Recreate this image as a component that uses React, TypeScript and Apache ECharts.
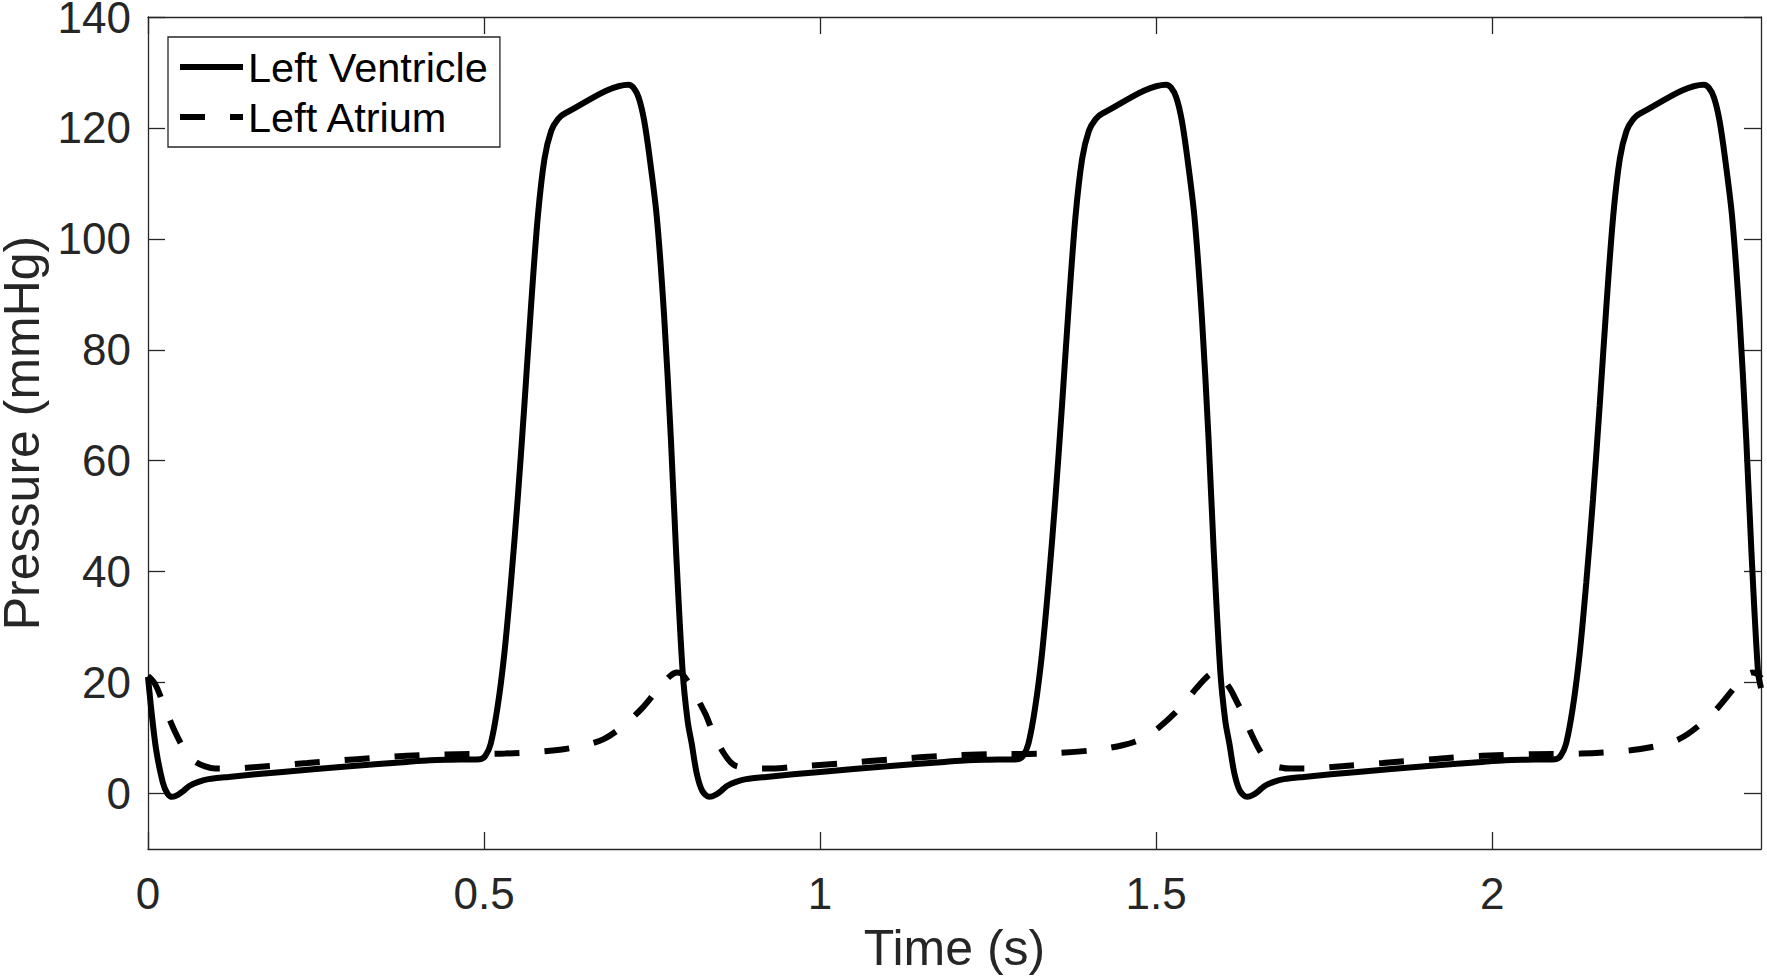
import React, { useEffect, useRef } from "react";
import * as echarts from "echarts";

const xTicks = [0, 0.5, 1, 1.5, 2];
const yTicks = [0, 20, 40, 60, 80, 100, 120, 140];

const lvTime = [
  0, 0.005, 0.012, 0.022, 0.029, 0.036, 0.045, 0.053, 0.062, 0.075, 0.09, 0.12, 0.2, 0.3, 0.385, 0.42, 0.45, 0.494,
  0.502, 0.51, 0.52, 0.53, 0.54, 0.55, 0.56, 0.57, 0.58, 0.59, 0.6, 0.61, 0.62, 0.715, 0.722, 0.73, 0.738, 0.746,
  0.757, 0.768, 0.778, 0.7856, 0.7955, 0.803, 0.809, 0.8165, 0.825, 0.8355,
  0.845, 0.853, 0.862, 0.875, 0.89, 0.92, 1.0, 1.1, 1.185, 1.22, 1.25, 1.294,
  1.302, 1.31, 1.32, 1.33, 1.34, 1.35, 1.36, 1.37, 1.38, 1.39, 1.4, 1.41, 1.42, 1.515, 1.522, 1.53, 1.538, 1.546,
  1.557, 1.568, 1.578, 1.5856, 1.5955, 1.603, 1.609, 1.6165, 1.625, 1.6355,
  1.645, 1.653, 1.662, 1.675, 1.69, 1.72, 1.8, 1.9, 1.985, 2.02, 2.05, 2.094,
  2.102, 2.11, 2.12, 2.13, 2.14, 2.15, 2.16, 2.17, 2.18, 2.19, 2.2, 2.21, 2.22, 2.315, 2.322, 2.33, 2.338, 2.346,
  2.357, 2.368, 2.378, 2.3856, 2.3955, 2.4,
];
const lvPressure = [
  21, 15, 8, 2, 0, -0.6, -0.2, 0.5, 1.4, 2.1, 2.6, 3.0, 3.9, 4.9, 5.7, 6.0, 6.1, 6.2,
  6.8, 9, 15.5, 25, 38, 53, 70, 88, 104, 114.5, 119.5, 121.6, 122.6, 127.8, 127.3, 125.5, 121.5, 115,
  104, 86, 64, 44, 22, 13, 9, 3.6, 0.4, -0.6,
  -0.2, 0.5, 1.4, 2.1, 2.6, 3.0, 3.9, 4.9, 5.7, 6.0, 6.1, 6.2,
  6.8, 9, 15.5, 25, 38, 53, 70, 88, 104, 114.5, 119.5, 121.6, 122.6, 127.8, 127.3, 125.5, 121.5, 115,
  104, 86, 64, 44, 22, 13, 9, 3.6, 0.4, -0.6,
  -0.2, 0.5, 1.4, 2.1, 2.6, 3.0, 3.9, 4.9, 5.7, 6.0, 6.1, 6.2,
  6.8, 9, 15.5, 25, 38, 53, 70, 88, 104, 114.5, 119.5, 121.6, 122.6, 127.8, 127.3, 125.5, 121.5, 115,
  104, 86, 64, 44, 22, 19,
];

const laTime = [
  0, 0.008, 0.0136, 0.025, 0.0407, 0.055, 0.07, 0.085, 0.1, 0.13, 0.162, 0.237, 0.311, 0.385, 0.46, 0.531, 0.606,
  0.65, 0.678, 0.705, 0.736, 0.76, 0.777, 0.787, 0.795, 0.803, 0.812, 0.8215, 0.83, 0.84, 0.856, 0.871, 0.885, 0.9,
  0.93, 0.962, 1.037, 1.111, 1.185, 1.26, 1.331, 1.406,
  1.45, 1.478, 1.505, 1.536, 1.56, 1.577, 1.587, 1.595, 1.603, 1.612, 1.6215, 1.63, 1.64, 1.656, 1.671, 1.685, 1.7,
  1.73, 1.762, 1.837, 1.911, 1.985, 2.06, 2.131, 2.206,
  2.25, 2.278, 2.305, 2.336, 2.36, 2.377, 2.387, 2.395, 2.4,
];
const laPressure = [
  21.2, 20.2, 19, 15.5, 11, 7.8, 5.8, 4.9, 4.5, 4.5, 4.8, 5.5, 6.2, 6.8, 7.1, 7.2, 7.8,
  8.7, 9.8, 12, 15.5, 19, 21.2, 21.8, 21.5, 20.2, 18.5, 16.2, 14.2, 11.2, 7.4, 5.2, 4.7, 4.5,
  4.5, 4.8, 5.5, 6.2, 6.8, 7.1, 7.2, 7.8,
  8.7, 9.8, 12, 15.5, 19, 21.2, 21.8, 21.5, 20.2, 18.5, 16.2, 14.2, 11.2, 7.4, 5.2, 4.7, 4.5,
  4.5, 4.8, 5.5, 6.2, 6.8, 7.1, 7.2, 7.8,
  8.7, 9.8, 12, 15.5, 19, 21.2, 21.8, 21.5, 20.8,
];

const FONT = "'Liberation Sans', Arial, Helvetica, sans-serif";
const AXIS_COLOR = "#262626";

export default function App() {
  const ref = useRef<HTMLDivElement>(null);
  useEffect(() => {
    if (!ref.current) return;
    const chart = echarts.init(ref.current, null, { renderer: "svg" });
    const lvData = lvTime.map((t, i) => [t, lvPressure[i]]);
    const laData = laTime.map((t, i) => [t, laPressure[i]]);
    const axisLine = { show: true, onZero: false, lineStyle: { color: AXIS_COLOR, width: 1.3 } };
    const tickStyle = { color: AXIS_COLOR, width: 1.3 };
    chart.setOption({
      animation: false,
      backgroundColor: "#ffffff",
      grid: { left: 148, right: 6, top: 17, bottom: 131, containLabel: false, outerBoundsMode: "none" },
      legend: {
        orient: "vertical",
        left: 168,
        top: 37,
        selectedMode: false,
        data: ["Left Ventricle", "Left Atrium"],
        itemWidth: 63,
        itemHeight: 20,
        itemGap: 6,
        padding: [8, 12, 8, 9],
        borderColor: AXIS_COLOR,
        borderWidth: 1.3,
        borderRadius: 0,
        backgroundColor: "#ffffff",
        itemStyle: { opacity: 0 },
        lineStyle: { width: 6, color: "#000000" },
        textStyle: { fontSize: 41.5, lineHeight: 44, color: "#000000", fontFamily: FONT },
      },
      xAxis: [
        {
          type: "value",
          min: 0,
          max: 2.4,
          position: "bottom",
          name: "Time (s)",
          nameLocation: "middle",
          nameGap: 76,
          nameTextStyle: { fontSize: 50, lineHeight: 46, color: AXIS_COLOR, fontFamily: FONT },
          axisLine,
          axisTick: { show: true, inside: true, length: 17, customValues: xTicks, lineStyle: tickStyle },
          axisLabel: { customValues: xTicks, fontSize: 44, color: AXIS_COLOR, margin: 22, fontFamily: FONT },
          splitLine: { show: false },
        },
        {
          type: "value",
          min: 0,
          max: 2.4,
          position: "top",
          axisLine,
          axisTick: { show: true, inside: true, length: 17, customValues: xTicks, lineStyle: tickStyle },
          axisLabel: { show: false },
          splitLine: { show: false },
        },
      ],
      yAxis: [
        {
          type: "value",
          min: -10,
          max: 140,
          position: "left",
          name: "Pressure (mmHg)",
          nameLocation: "middle",
          nameGap: 91,
          nameTextStyle: { fontSize: 50, lineHeight: 46, color: AXIS_COLOR, fontFamily: FONT },
          axisLine,
          axisTick: { show: true, inside: true, length: 17, customValues: yTicks, lineStyle: tickStyle },
          axisLabel: {
            customValues: yTicks,
            fontSize: 44,
            lineHeight: 32,
            color: AXIS_COLOR,
            margin: 17,
            fontFamily: FONT,
          },
          splitLine: { show: false },
        },
        {
          type: "value",
          min: -10,
          max: 140,
          position: "right",
          axisLine,
          axisTick: { show: true, inside: true, length: 17, customValues: yTicks, lineStyle: tickStyle },
          axisLabel: { show: false },
          splitLine: { show: false },
        },
      ],
      series: [
        {
          name: "Left Ventricle",
          type: "line",
          data: lvData,
          xAxisIndex: 0,
          yAxisIndex: 0,
          symbol: "none",
          showSymbol: false,
          smooth: 0.3,
          color: "#000000",
          lineStyle: { color: "#000000", width: 6, type: "solid" },
        },
        {
          name: "Left Atrium",
          type: "line",
          data: laData,
          xAxisIndex: 0,
          yAxisIndex: 0,
          symbol: "none",
          showSymbol: false,
          smooth: 0.3,
          color: "#000000",
          lineStyle: { color: "#000000", width: 6, type: [25, 25] },
        },
      ],
    });
    return () => chart.dispose();
  }, []);
  return <div ref={ref} style={{ position: "absolute", left: 0, top: 0, width: 1767, height: 980 }} />;
}
